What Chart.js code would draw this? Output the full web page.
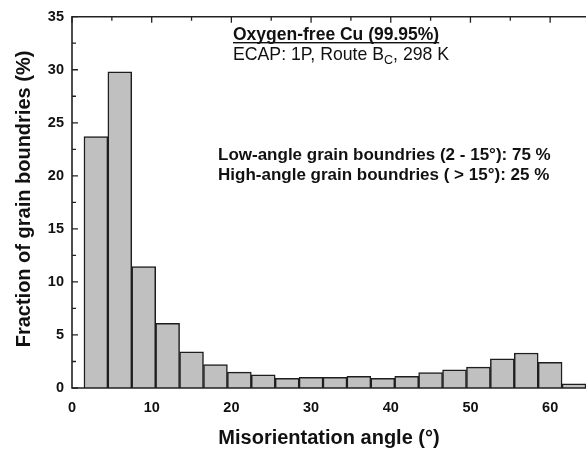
<!DOCTYPE html>
<html>
<head>
<meta charset="utf-8">
<script src="https://cdn.jsdelivr.net/npm/chart.js@4"></script>
<style>
html,body{margin:0;padding:0;background:#fff;}
canvas{display:block;}
</style>
</head>
<body>
<canvas id="c" width="586" height="454"></canvas>
<script>
// Bin centres (degrees, 3° bins) and fraction of grain boundaries (%)
const angles = [3, 6, 9, 12, 15, 18, 21, 24, 27, 30, 33, 36, 39, 42, 45, 48, 51, 54, 57, 60, 63];
const fractions = [23.7, 29.8, 11.45, 6.1, 3.4, 2.2, 1.5, 1.25, 0.92, 1.0, 1.0, 1.1, 0.92, 1.1, 1.45, 1.72, 1.97, 2.75, 3.3, 2.42, 0.4];
const xTickValues = [0, 10, 20, 30, 40, 50, 60];
const yTickValues = [0, 5, 10, 15, 20, 25, 30, 35];
const titleLine = "Oxygen-free Cu (99.95%)";
const infoLines = ["Low-angle grain boundries (2 - 15°): 75 %", "High-angle grain boundries ( > 15°): 25 %"];
const xTitle = "Misorientation angle (°)";
const yTitle = "Fraction of grain boundries (%)";

const FONT = "'Liberation Sans', Arial, sans-serif";
const INK = '#111';

const deco = {
  id: 'deco',
  afterDatasetsDraw(chart) {
    const {ctx, chartArea: a, scales: {x, y}} = chart;
    ctx.save();
    ctx.strokeStyle = '#222';
    ctx.lineWidth = 1.6;
    ctx.beginPath();
    ctx.moveTo(a.left, a.top); ctx.lineTo(a.left, a.bottom);
    ctx.moveTo(a.left - 0.8, a.top); ctx.lineTo(a.right + 2, a.top);
    ctx.moveTo(a.left - 0.8, a.bottom); ctx.lineTo(a.right + 2, a.bottom);
    ctx.stroke();
    // left ticks (major + minor)
    ctx.lineWidth = 1.3;
    ctx.beginPath();
    for (let i = 0; i < yTickValues.length; i++) {
      const v = yTickValues[i];
      const py = y.getPixelForValue(v);
      ctx.moveTo(a.left, py); ctx.lineTo(a.left + 6, py);
      if (i < yTickValues.length - 1) {
        const m = (v + yTickValues[i + 1]) / 2;
        const pm = y.getPixelForValue(m);
        ctx.moveTo(a.left, pm); ctx.lineTo(a.left + 4, pm);
      }
    }
    // top ticks
    for (let i = 0; i < xTickValues.length; i++) {
      const v = xTickValues[i];
      const px = x.getPixelForValue(v);
      ctx.moveTo(px, a.top); ctx.lineTo(px, a.top + 6);
      const m = v + (xTickValues[1] - xTickValues[0]) / 2;
      if (m <= x.max) {
        const pm = x.getPixelForValue(m);
        ctx.moveTo(pm, a.top); ctx.lineTo(pm, a.top + 4);
      }
    }
    ctx.stroke();

    // annotation texts
    ctx.fillStyle = INK;
    ctx.textBaseline = 'alphabetic';
    ctx.textAlign = 'left';
    ctx.font = 'bold 17.5px ' + FONT;
    ctx.fillText(titleLine, 233, 40);
    const tw = ctx.measureText(titleLine).width;
    ctx.fillRect(233, 42, tw, 1.4);
    ctx.font = '17.7px ' + FONT;
    let xx = 233;
    const p1 = 'ECAP: 1P, Route B';
    ctx.fillText(p1, xx, 60);
    xx += ctx.measureText(p1).width;
    ctx.font = '12.5px ' + FONT;
    ctx.fillText('C', xx, 64);
    xx += ctx.measureText('C').width;
    ctx.font = '17.7px ' + FONT;
    ctx.fillText(', 298 K', xx, 60);

    ctx.font = 'bold 17px ' + FONT;
    ctx.fillText(infoLines[0], 218, 160);
    ctx.fillText(infoLines[1], 218, 180);

    // axis titles
    ctx.font = 'bold 20px ' + FONT;
    ctx.textAlign = 'center';
    ctx.textBaseline = 'middle';
    ctx.fillText(xTitle, (a.left + a.right) / 2, 438);
    ctx.save();
    ctx.translate(24, 199);
    ctx.rotate(-Math.PI / 2);
    ctx.fillText(yTitle, 0, 0);
    ctx.restore();
    ctx.restore();
  }
};

new Chart(document.getElementById('c'), {
  type: 'bar',
  data: {
    datasets: [{
      data: angles.map((a, i) => ({x: a, y: fractions[i]})),
      backgroundColor: '#c0c0c0',
      borderColor: '#1e1e1e',
      borderWidth: 1.5,
      barPercentage: 1,
      categoryPercentage: 1
    }]
  },
  options: {
    responsive: false,
    animation: false,
    layout: {padding: {top: 14, left: 0, right: 0, bottom: 0}},
    plugins: {legend: {display: false}, tooltip: {enabled: false}},
    scales: {
      x: {
        type: 'linear', min: 0, max: 64.5, offset: false,
        grid: {display: false, drawTicks: false, offset: false},
        border: {display: false},
        ticks: {
          stepSize: 10, includeBounds: false, padding: 11,
          color: INK, font: {family: FONT, size: 14.5, weight: 'bold'},
          maxRotation: 0, autoSkip: false
        },
        afterFit: s => { s.height = 66; }
      },
      y: {
        min: 0, max: 35,
        grid: {display: false, drawTicks: false},
        border: {display: false},
        ticks: {
          stepSize: 5, padding: 8,
          color: INK, font: {family: FONT, size: 14.5, weight: 'bold'}
        },
        afterFit: s => { s.width = 72; }
      }
    }
  },
  plugins: [deco]
});
</script>
</body>
</html>
